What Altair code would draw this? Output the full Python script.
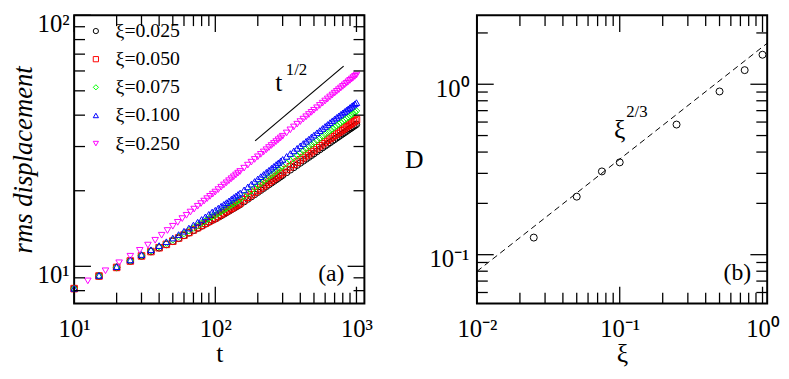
import altair as alt
import pandas as pd

FONT = "Liberation Serif"

# ---------------- panel (a) data ----------------
T_MAIN = [10, 15, 20, 25, 30, 35, 40, 45, 50, 55, 60, 65, 70, 75, 80, 85, 90, 95, 100,
          105, 110, 115, 120, 125, 130, 135, 140, 145, 150,
          160, 170, 180, 190, 200, 210, 220, 230, 240, 250, 260, 270, 280, 290, 300,
          320, 340, 360, 380, 400, 420, 440, 460, 480, 500,
          525, 550, 575, 600, 625, 650, 675, 700, 725, 750, 775, 800, 825, 850, 875,
          900, 925, 950, 975, 1000]

RMS_0025 = [8.15, 9.15, 9.9, 10.5, 11.0, 11.45, 11.85, 12.22, 12.58, 12.93, 13.27, 13.59, 13.9, 14.19,
            14.47, 14.74, 15.0, 15.25, 15.45, 15.7, 15.93, 16.16, 16.39, 16.61, 16.83, 17.04, 17.25,
            17.45, 17.65,
            18.1, 18.53, 18.94, 19.34, 19.73, 20.1, 20.47, 20.83, 21.17, 21.51, 21.84, 22.16, 22.47,
            22.78, 23.08,
            23.66, 24.23, 24.77, 25.29, 25.8, 26.29, 26.77, 27.23, 27.69, 28.12,
            28.66, 29.18, 29.69, 30.18, 30.66, 31.13, 31.59, 32.04, 32.48, 32.9, 33.33, 33.74, 34.14,
            34.54, 34.93, 35.31, 35.68, 36.06, 36.42, 36.78]

RMS_0050 = [8.15, 9.15, 9.9, 10.5, 11.0, 11.45, 11.86, 12.23, 12.6, 12.97, 13.32, 13.64, 13.97, 14.27,
            14.56, 14.84, 15.11, 15.38, 15.6, 15.86, 16.1, 16.34, 16.58, 16.81, 17.04, 17.26, 17.48,
            17.69, 17.91,
            18.39, 18.84, 19.28, 19.71, 20.12, 20.51, 20.9, 21.28, 21.65, 22.0, 22.36, 22.7, 23.03,
            23.36, 23.68,
            24.29, 24.9, 25.47, 26.03, 26.57, 27.1, 27.62, 28.11, 28.61, 29.08,
            29.65, 30.21, 30.76, 31.28, 31.8, 32.31, 32.8, 33.29, 33.76, 34.21, 34.67, 35.11, 35.54,
            35.97, 36.39, 36.8, 37.21, 37.62, 38.01, 38.4]

RMS_0075 = [8.15, 9.16, 9.92, 10.54, 11.06, 11.54, 11.97, 12.37, 12.76, 13.14, 13.51, 13.86, 14.21, 14.54,
            14.86, 15.18, 15.49, 15.77, 15.99, 16.27, 16.54, 16.8, 17.06, 17.32, 17.57, 17.82, 18.06,
            18.3, 18.53,
            19.06, 19.57, 20.06, 20.54, 21.01, 21.45, 21.88, 22.31, 22.72, 23.12, 23.52, 23.91, 24.29,
            24.67, 25.04,
            25.72, 26.39, 27.02, 27.64, 28.25, 28.84, 29.42, 29.98, 30.54, 31.07,
            31.72, 32.34, 32.95, 33.55, 34.13, 34.7, 35.27, 35.82, 36.35, 36.85, 37.36, 37.86, 38.34,
            38.82, 39.3, 39.76, 40.21, 40.68, 41.12, 41.56]

RMS_0100 = [8.17, 9.2, 9.97, 10.61, 11.14, 11.64, 12.09, 12.53, 12.96, 13.38, 13.8, 14.2, 14.6, 14.99,
            15.37, 15.74, 16.11, 16.46, 16.73, 17.05, 17.35, 17.65, 17.93, 18.22, 18.51, 18.8, 19.06,
            19.33, 19.59,
            20.16, 20.72, 21.25, 21.78, 22.29, 22.76, 23.23, 23.69, 24.13, 24.58, 25.01, 25.43, 25.84,
            26.25, 26.66,
            27.4, 28.13, 28.83, 29.51, 30.19, 30.84, 31.48, 32.1, 32.73, 33.32,
            34.03, 34.72, 35.41, 36.07, 36.72, 37.36, 37.99, 38.61, 39.18, 39.73, 40.29, 40.83, 41.35,
            41.88, 42.4, 42.9, 43.4, 43.9, 44.39, 44.87]

T_0250 = [12.5, 16.67, 20.83, 25, 29.17, 33.33, 37.5, 41.67, 45.83, 50, 54.17, 58.33, 62.5, 66.67,
          70.83, 75, 79.17, 83.33, 87.5, 91.67, 95.83, 100,
          105, 110, 115, 120, 125, 130, 135, 140, 145, 150,
          160, 170, 180, 190, 200, 210, 220, 230, 240, 250, 260, 270, 280, 290, 300,
          320, 340, 360, 380, 400, 420, 440, 460, 480, 500,
          525, 550, 575, 600, 625, 650, 675, 700, 725, 750, 775, 800, 825, 850, 875,
          900, 925, 950, 975, 1000]

RMS_0250 = [8.75, 9.6, 10.33, 10.97, 11.58, 12.15, 12.7, 13.3, 13.89, 14.44, 14.97, 15.49, 15.97, 16.45,
            16.9, 17.35, 17.78, 18.19, 18.6, 19.0, 19.38, 19.76,
            20.21, 20.66, 21.09, 21.51, 21.93, 22.33, 22.73, 23.12, 23.5, 23.87,
            24.6, 25.3, 25.99, 26.65, 27.3, 27.92, 28.54, 29.13, 29.72, 30.29, 30.85, 31.39, 31.93,
            32.46, 32.97,
            33.98, 34.96, 35.9, 36.82, 37.71, 38.57, 39.42, 40.24, 41.05, 41.84,
            42.8, 43.74, 44.65, 45.55, 46.42, 47.28, 48.12, 48.94, 49.75, 50.54, 51.32, 52.08, 52.84,
            53.58, 54.31, 55.03, 55.73, 56.43, 57.12, 57.8]

SERIES_LABELS = ["ξ=0.025", "ξ=0.050", "ξ=0.075", "ξ=0.100", "ξ=0.250"]
SERIES_COLORS = ["#000000", "#ff0000", "#00ff00", "#0000ff", "#ff00ff"]
SERIES_SHAPES = ["circle", "square", "diamond", "triangle-up", "triangle-down"]

GUIDE_T = [191.4, 811]
GUIDE_RMS = [31.6, 62.7]

A_X_TICKS = [10, 100, 1000]
A_X_LABELS = ["10\u00b9", "10\u00b2", "10\u00b3"]
A_Y_TICKS = [10, 100]
A_Y_LABELS = ["10\u00b9", "10\u00b2"]
A_X_MINOR = [20, 30, 40, 50, 60, 70, 80, 90, 200, 300, 400, 500, 600, 700, 800, 900]
A_Y_MINOR = [8, 9, 20, 30, 40, 50, 60, 70, 80, 90]

# ---------------- panel (b) data ----------------
XI = [0.025, 0.05, 0.075, 0.1, 0.25, 0.5, 0.75, 1.0]
D = [0.126, 0.219, 0.308, 0.348, 0.58, 0.907, 1.21, 1.49]
FIT_XI = [0.01, 1.078]
FIT_D = [0.0798, 1.74]

B_X_TICKS = [0.01, 0.1, 1]
B_X_LABELS = ["10\u207b\u00b2", "10\u207b\u00b9", "10\u2070"]
B_Y_TICKS = [0.1, 1]
B_Y_LABELS = ["10\u207b\u00b9", "10\u2070"]
B_X_MINOR = [0.02, 0.03, 0.04, 0.05, 0.06, 0.07, 0.08, 0.09, 0.2, 0.3, 0.4, 0.5, 0.6, 0.7, 0.8, 0.9]
B_Y_MINOR = [0.06, 0.07, 0.08, 0.09, 0.2, 0.3, 0.4, 0.5, 0.6, 0.7, 0.8, 0.9, 2]

MAJOR_LEN = 17
MINOR_LEN = 11
TICK_FONT = 25
TITLE_FONT = 26


def label_expr(vals, labels):
    expr = "''"
    for v, l in zip(reversed(vals), reversed(labels)):
        expr = f"abs(datum.value - {v}) < {v * 1e-3} ? '{l}' : " + expr
    return expr


def tick_layers(xvals_major, xvals_minor, yvals_major, yvals_minor, xs, ys, W, H):
    layers = []
    for vals, L in ((xvals_major, MAJOR_LEN), (xvals_minor, MINOR_LEN)):
        df = pd.DataFrame({"v": vals})
        base = alt.Chart(df).mark_rule(color="black", strokeWidth=1.3)
        layers.append(base.encode(x=alt.X("v:Q", scale=xs),
                                  y=alt.value(H), y2=alt.value(H - L)))
        layers.append(base.encode(x=alt.X("v:Q", scale=xs),
                                  y=alt.value(0), y2=alt.value(L)))
    for vals, L in ((yvals_major, MAJOR_LEN), (yvals_minor, MINOR_LEN)):
        df = pd.DataFrame({"v": vals})
        base = alt.Chart(df).mark_rule(color="black", strokeWidth=1.3)
        layers.append(base.encode(y=alt.Y("v:Q", scale=ys),
                                  x=alt.value(0), x2=alt.value(L)))
        layers.append(base.encode(y=alt.Y("v:Q", scale=ys),
                                  x=alt.value(W), x2=alt.value(W - L)))
    return layers


def text_layer(xv, yv, txt, xs, ys, size, style="normal"):
    df = pd.DataFrame({"x": [xv], "y": [yv], "s": [txt]})
    return alt.Chart(df).mark_text(font=FONT, fontSize=size, fontStyle=style, color="black").encode(
        x=alt.X("x:Q", scale=xs), y=alt.Y("y:Q", scale=ys), text="s:N")


# ---------------- panel (a) ----------------
W1, H1 = 294, 292
xs1 = alt.Scale(type="log", domain=[10, 1138], nice=False)
ys1 = alt.Scale(type="log", domain=[7.11, 100], nice=False)

rows = []
k = 0
for lab, ts, vs in zip(SERIES_LABELS,
                       [T_MAIN, T_MAIN, T_MAIN, T_MAIN, T_0250],
                       [RMS_0025, RMS_0050, RMS_0075, RMS_0100, RMS_0250]):
    for t, v in zip(ts, vs):
        rows.append({"t": t, "rms": v, "series": lab, "k": k})
        k += 1
df_a = pd.DataFrame(rows)

leg = alt.Legend(orient="none", legendX=12, legendY=6, title=None, labelFont=FONT,
                 labelFontSize=20, labelColor="black", symbolSize=28, symbolStrokeWidth=1,
                 rowPadding=8.5, labelOffset=10, padding=0)

points_a = alt.Chart(df_a).mark_point(filled=False, size=44, strokeWidth=1, opacity=1).encode(
    x=alt.X("t:Q", scale=xs1, title="t",
            axis=alt.Axis(values=A_X_TICKS, labelExpr=label_expr(A_X_TICKS, A_X_LABELS),
                          ticks=False, domain=False, grid=False, labelFlush=False,
                          labelOverlap=False, labelFontSize=TICK_FONT, labelPadding=13,
                          titleFontSize=TITLE_FONT, titlePadding=0)),
    y=alt.Y("rms:Q", scale=ys1, title="rms displacement",
            axis=alt.Axis(values=A_Y_TICKS, labelExpr=label_expr(A_Y_TICKS, A_Y_LABELS),
                          ticks=False, domain=False, grid=False, labelFlush=False,
                          labelOverlap=False, labelFontSize=TICK_FONT, labelPadding=5, labelOffset=8,
                          titleFontSize=27, titleFontStyle="italic", titlePadding=0)),
    color=alt.Color("series:N", scale=alt.Scale(domain=SERIES_LABELS, range=SERIES_COLORS), legend=leg),
    shape=alt.Shape("series:N", scale=alt.Scale(domain=SERIES_LABELS, range=SERIES_SHAPES), legend=leg),
    order=alt.Order("k:Q"),
)

guide_a = alt.Chart(pd.DataFrame({"t": GUIDE_T, "rms": GUIDE_RMS})).mark_line(
    color="black", strokeWidth=1.2).encode(
    x=alt.X("t:Q", scale=xs1), y=alt.Y("rms:Q", scale=ys1))

left = alt.layer(
    points_a, guide_a,
    text_layer(282, 53.6, "t", xs1, ys1, 26),
    text_layer(376, 60.7, "1/2", xs1, ys1, 17),
    text_layer(664, 9.29, "(a)", xs1, ys1, 24),
    *tick_layers(A_X_TICKS, A_X_MINOR, A_Y_TICKS, A_Y_MINOR, xs1, ys1, W1, H1),
).properties(width=W1, height=H1)

# ---------------- panel (b) ----------------
W2, H2 = 294, 292
xs2 = alt.Scale(type="log", domain=[0.01, 1.078], nice=False)
ys2 = alt.Scale(type="log", domain=[0.0517, 2.54], nice=False)

points_b = alt.Chart(pd.DataFrame({"xi": XI, "D": D})).mark_point(
    filled=False, size=50, strokeWidth=1, color="black", shape="circle", opacity=1).encode(
    x=alt.X("xi:Q", scale=xs2, title="ξ",
            axis=alt.Axis(values=B_X_TICKS, labelExpr=label_expr(B_X_TICKS, B_X_LABELS),
                          ticks=False, domain=False, grid=False, labelFlush=False,
                          labelOverlap=False, labelFontSize=TICK_FONT, labelPadding=13,
                          titleFontSize=TITLE_FONT, titlePadding=0)),
    y=alt.Y("D:Q", scale=ys2, title="D",
            axis=alt.Axis(values=B_Y_TICKS, labelExpr=label_expr(B_Y_TICKS, B_Y_LABELS),
                          ticks=False, domain=False, grid=False, labelFlush=False,
                          labelOverlap=False, labelFontSize=TICK_FONT, labelPadding=8, labelOffset=4,
                          titleFontSize=TITLE_FONT, titleAngle=0, titleAlign="right",
                          titleBaseline="middle", titlePadding=6)),
)

fit_b = alt.Chart(pd.DataFrame({"xi": FIT_XI, "D": FIT_D})).mark_line(
    color="black", strokeWidth=1, strokeDash=[6, 4]).encode(
    x=alt.X("xi:Q", scale=xs2), y=alt.Y("D:Q", scale=ys2))

right = alt.layer(
    points_b, fit_b,
    text_layer(0.1, 0.538, "ξ", xs2, ys2, 26),
    text_layer(0.132, 0.687, "2/3", xs2, ys2, 17),
    text_layer(0.667, 0.078, "(b)", xs2, ys2, 24),
    *tick_layers(B_X_TICKS, B_X_MINOR, B_Y_TICKS, B_Y_MINOR, xs2, ys2, W2, H2),
).properties(width=W2, height=H2)

chart = alt.hconcat(left, right, spacing=114, bounds="flush").properties(
    padding={"left": 0, "top": 0, "right": 0, "bottom": 0},
    background="white",
).configure_view(stroke="black", strokeWidth=2).configure_axis(
    labelFont=FONT, titleFont=FONT, labelColor="black", titleColor="black",
    titleFontWeight="normal",
).configure_legend(labelFont=FONT)

chart.save("out.html", embed_options={"renderer": "svg", "actions": False})
